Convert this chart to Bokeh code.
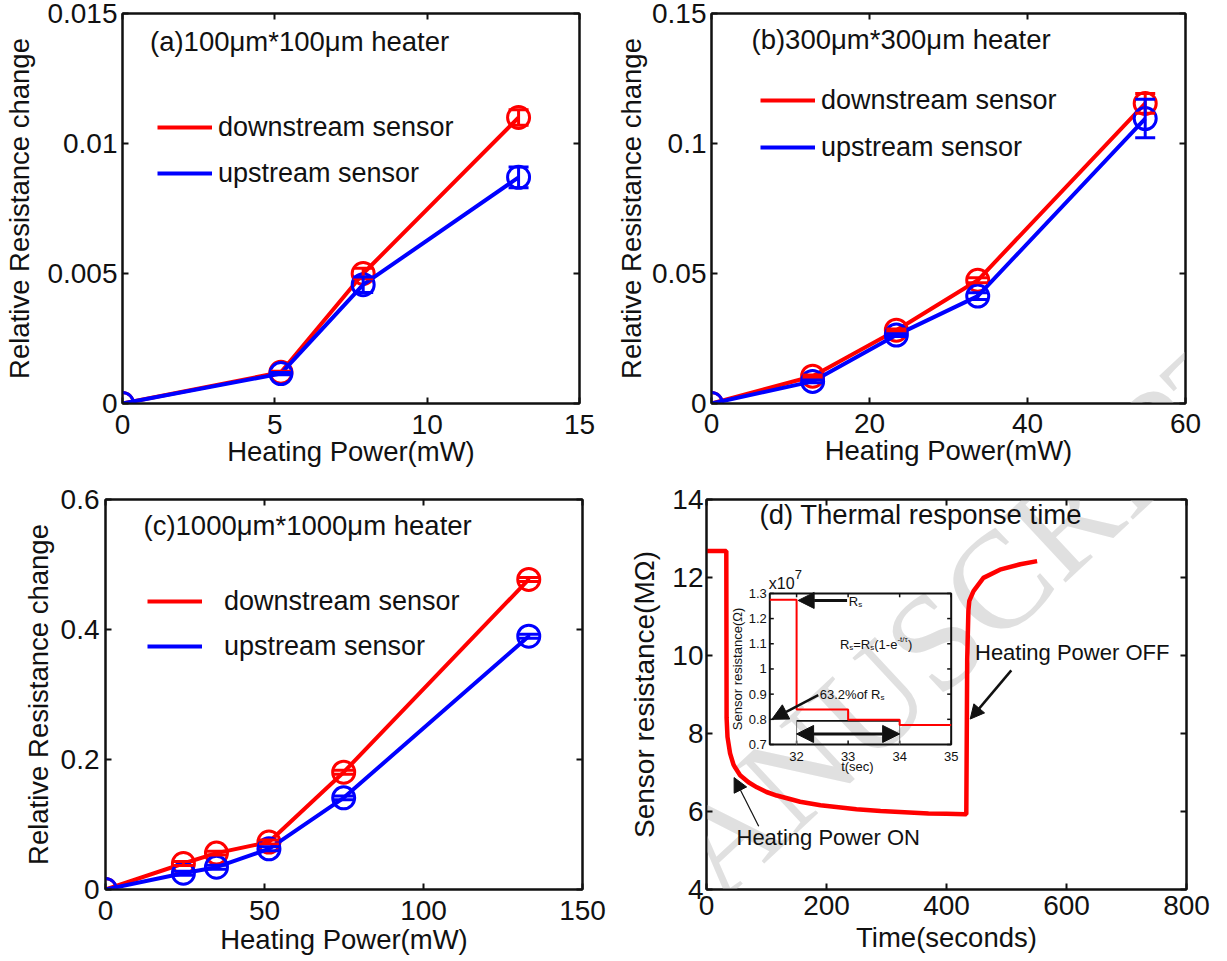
import math
from bokeh.plotting import figure
from bokeh.layouts import row, column
from bokeh.models import (Range1d, FixedTicker, LinearAxis, Legend, LegendItem, Label,
                          ColumnDataSource, Whisker, TeeHead, Arrow, NormalHead)
from bokeh.core.properties import value
from bokeh.embed import file_html
from bokeh.resources import INLINE

FONT = "Liberation Sans"
RED = "#ff0000"
BLUE = "#0000ff"
INK = "#111111"

# ---------------- data ----------------
# (a) 100um*100um heater
power_a = [0.0, 5.2, 7.9, 13.0]
down_a = [0.0, 0.0012, 0.0050, 0.0110]
down_a_err = [0.0, 0.00004, 0.0002, 0.0003]
up_a = [0.0, 0.00115, 0.00457, 0.0087]
up_a_err = [0.0, 0.00004, 0.0003, 0.0004]

# (b) 300um*300um heater
power_b = [0.0, 12.8, 23.4, 33.7, 54.9]
down_b = [0.0, 0.0105, 0.0282, 0.0474, 0.1154]
down_b_err = [0.0, 0.0005, 0.0005, 0.001, 0.0038]
up_b = [0.0, 0.0085, 0.0263, 0.0413, 0.1096]
up_b_err = [0.0, 0.0005, 0.0005, 0.0013, 0.0074]

# (c) 1000um*1000um heater
power_c = [0.0, 24.5, 34.9, 51.4, 74.9, 133.1]
down_c = [0.0, 0.040, 0.056, 0.073, 0.1805, 0.477]
down_c_err = [0.0, 0.003, 0.003, 0.003, 0.003, 0.003]
up_c = [0.0, 0.025, 0.0343, 0.0626, 0.141, 0.3897]
up_c_err = [0.0, 0.003, 0.003, 0.003, 0.003, 0.003]

# (d) thermal response
time_d = [0, 33, 33.5, 35, 39.3, 45, 48, 56, 61.5, 70, 84, 100, 117, 139, 156, 190,
          220, 250, 290, 330, 370, 400, 431, 433, 434.5, 436.5, 438, 445, 461.5,
          489, 523, 551]
res_d = [12.68, 12.68, 8.40, 7.91, 7.49, 7.20, 7.12, 6.93, 6.86, 6.75, 6.62, 6.50,
         6.41, 6.32, 6.25, 6.16, 6.11, 6.06, 6.01, 5.98, 5.95, 5.94, 5.93, 5.93,
         9.90, 11.15, 11.40, 11.65, 11.99, 12.20, 12.34, 12.42]

# inset of (d): time in s, resistance in 1e7 ohm
inset_t = [31.48, 32, 32, 33, 33, 34, 34, 35]
inset_r = [1.275, 1.275, 0.839, 0.839, 0.798, 0.798, 0.777, 0.777]
bracket_x0 = [32, 32, 34]
bracket_y0 = [0.794, 0.70, 0.70]
bracket_x1 = [34, 32, 34]
bracket_y1 = [0.794, 0.794, 0.794]

# ticks
xt_a, yt_a, ylab_a = [0, 5, 10, 15], [0, 0.005, 0.01, 0.015], ["0", "0.005", "0.01", "0.015"]
xt_b, yt_b, ylab_b = [0, 20, 40, 60], [0, 0.05, 0.1, 0.15], ["0", "0.05", "0.1", "0.15"]
xt_c, yt_c, ylab_c = [0, 50, 100, 150], [0, 0.2, 0.4, 0.6], ["0", "0.2", "0.4", "0.6"]
xt_d, yt_d = [0, 200, 400, 600, 800], [4, 6, 8, 10, 12, 14]
xt_in = [32, 33, 34, 35]
yt_in = [0.7, 0.8, 0.9, 1.0, 1.1, 1.2, 1.3]
ylab_in = ["0.7", "0.8", "0.9", "1", "1.1", "1.2", "1.3"]

# inset placement inside panel (d), in (d) data units
IN_X, IN_Y = (31.48, 35.0), (0.7, 1.3)
IN_TX, IN_TY = (105.5, 407.8), (7.7175, 11.5925)


# ---------------- helpers ----------------
def make_fig(w, h, xr, yr, l, r, t, b):
    p = figure(width=w, height=h, x_range=Range1d(*xr), y_range=Range1d(*yr),
               output_backend="svg", toolbar_location=None, title_location=None,
               min_border_left=l, min_border_right=r, min_border_top=t, min_border_bottom=b,
               background_fill_alpha=0, border_fill_color="white",
               outline_line_color=INK, outline_line_width=2)
    p.xgrid.visible = False
    p.ygrid.visible = False
    return p


def set_axis(ax, ticks, labels, fs, standoff, title, title_fs, title_standoff):
    ax.ticker = FixedTicker(ticks=ticks)
    if labels is not None:
        ax.major_label_overrides = {t: s for t, s in zip(ticks, labels)}
    ax.major_tick_in = 6
    ax.major_tick_out = 0
    ax.minor_tick_in = 0
    ax.minor_tick_out = 0
    ax.major_tick_line_width = 2
    ax.major_tick_line_color = INK
    ax.axis_line_width = 2
    ax.axis_line_color = INK
    ax.major_label_text_font = FONT
    ax.major_label_text_font_size = fs
    ax.major_label_text_color = INK
    ax.major_label_standoff = standoff
    ax.axis_label = title
    ax.axis_label_text_font = FONT
    ax.axis_label_text_font_size = title_fs
    ax.axis_label_text_font_style = "normal"
    ax.axis_label_text_color = INK
    ax.axis_label_standoff = title_standoff


def box_axes(p, xt, yt):
    for loc, ticks in (("above", xt), ("right", yt)):
        ax = LinearAxis(ticker=FixedTicker(ticks=ticks))
        ax.major_label_overrides = {t: "" for t in ticks}
        ax.major_label_text_font_size = "0px"
        ax.major_label_standoff = 0
        ax.major_tick_in = 6
        ax.major_tick_out = 0
        ax.minor_tick_in = 0
        ax.minor_tick_out = 0
        ax.major_tick_line_width = 2
        ax.major_tick_line_color = INK
        ax.axis_line_width = 2
        ax.axis_line_color = INK
        p.add_layout(ax, loc)


def txt(p, sx, sy, s, fs):
    p.add_layout(Label(x=sx, y=sy, x_units="screen", y_units="screen", text=s,
                       text_font=FONT, text_font_size=fs, text_color=INK,
                       text_align="left", text_baseline="middle"))


def watermark(p, sx, sy):
    p.add_layout(Label(x=sx, y=sy, x_units="screen", y_units="screen", text="MANUSCRIPT",
                       text_font="Liberation Serif", text_font_size="138px",
                       text_color="#e0e0e0", angle=math.radians(43.0),
                       text_align="left", text_baseline="middle", level="underlay"))


def series(p, x, y, err, color):
    ln = p.line(x, y, line_color=color, line_width=4)
    p.scatter(x, y, marker="circle", size=22, fill_alpha=0, line_color=color, line_width=3)
    src = ColumnDataSource(dict(x=x, upper=[v + e for v, e in zip(y, err)],
                                lower=[v - e for v, e in zip(y, err)]))
    p.add_layout(Whisker(source=src, base="x", upper="upper", lower="lower",
                         line_color=color, line_width=3, level="glyph",
                         upper_head=TeeHead(size=20, line_color=color, line_width=3),
                         lower_head=TeeHead(size=20, line_color=color, line_width=3)))
    return ln


def legend(p, rl, bl, loc, spacing, standoff):
    lg = Legend(items=[LegendItem(label="downstream sensor", renderers=[rl]),
                       LegendItem(label="upstream sensor", renderers=[bl])],
                location=loc, orientation="vertical", glyph_width=55, glyph_height=40,
                label_height=40, label_standoff=standoff, spacing=spacing, padding=0,
                margin=0, border_line_alpha=0, background_fill_alpha=0,
                label_text_font=FONT, label_text_font_size="27px", label_text_color=INK)
    p.add_layout(lg)


def ins(x, y):
    """inset coordinates -> panel (d) data coordinates"""
    return (IN_TX[0] + (x - IN_X[0]) / (IN_X[1] - IN_X[0]) * (IN_TX[1] - IN_TX[0]),
            IN_TY[0] + (y - IN_Y[0]) / (IN_Y[1] - IN_Y[0]) * (IN_TY[1] - IN_TY[0]))


TICK_FS = "28px"
LAB_FS = "27.5px"

# ---------------- (a) ----------------
pa = make_fig(610, 475, (0, 15), (0, 0.015), 122, 31, 13, 71)
set_axis(pa.yaxis[0], yt_a, ylab_a, TICK_FS, 5, "Relative Resistance change", LAB_FS, 9)
set_axis(pa.xaxis[0], xt_a, None, TICK_FS, 11, "Heating Power(mW)", LAB_FS, -1)
box_axes(pa, xt_a, yt_a)
ra = series(pa, power_a, down_a, down_a_err, RED)
ba = series(pa, power_a, up_a, up_a_err, BLUE)
legend(pa, ra, ba, (35, 210), 6, 6)
txt(pa, 27.5, 361.9, "(a)100μm*100μm heater", LAB_FS)

# ---------------- (b) ----------------
pb = make_fig(617, 475, (0, 60), (0, 0.15), 101, 42, 13, 72)
set_axis(pb.yaxis[0], yt_b, ylab_b, TICK_FS, 5, "Relative Resistance change", LAB_FS, 2)
set_axis(pb.xaxis[0], xt_b, None, TICK_FS, 10, "Heating Power(mW)", LAB_FS, -1)
box_axes(pb, xt_b, yt_b)
watermark(pb, -113, -555)
rb = series(pb, power_b, down_b, down_b_err, RED)
bb = series(pb, power_b, up_b, up_b_err, BLUE)
legend(pb, rb, bb, (49, 236), 7, 6)
txt(pb, 40, 364.3, "(b)300μm*300μm heater", LAB_FS)

# ---------------- (c) ----------------
pc = make_fig(610, 486, (0, 150), (0, 0.6), 105, 28, 24, 72)
set_axis(pc.yaxis[0], yt_c, ylab_c, TICK_FS, 6, "Relative Resistance change", LAB_FS, 4)
set_axis(pc.xaxis[0], xt_c, None, TICK_FS, 11, "Heating Power(mW)", LAB_FS, 1)
box_axes(pc, xt_c, yt_c)
watermark(pc, 493, -69)
rc = series(pc, power_c, down_c, down_c_err, RED)
bc = series(pc, power_c, up_c, up_c_err, BLUE)
legend(pc, rc, bc, (42, 223), 5, 22)
txt(pc, 38, 363.6, "(c)1000μm*1000μm heater", LAB_FS)

# ---------------- (d) ----------------
pd = make_fig(617, 486, (0, 800), (4, 14), 96, 41, 18, 68)
set_axis(pd.yaxis[0], yt_d, None, TICK_FS, 3, "Sensor resistance(MΩ)", "28px", 9)
set_axis(pd.xaxis[0], xt_d, None, TICK_FS, 6, "Time(seconds)", LAB_FS, 4)
box_axes(pd, xt_d, yt_d)
watermark(pd, -108, -65)
pd.line(time_d, res_d, line_color=RED, line_width=4.5)
txt(pd, 53, 374.6, "(d) Thermal response time", LAB_FS)
txt(pd, 268.5, 237.4, "Heating Power OFF", "22px")
txt(pd, 30, 52.4, "Heating Power ON", "22px")
pd.add_layout(Arrow(end=NormalHead(size=14, fill_color=INK, line_color=INK),
                    x_start=508, y_start=9.62, x_end=439.5, y_end=8.37,
                    line_color=INK, line_width=2.5))
pd.add_layout(Arrow(end=NormalHead(size=14, fill_color=INK, line_color=INK),
                    x_start=87, y_start=5.62, x_end=46, y_end=6.87,
                    line_color=INK, line_width=1.2))

# ---------------- inset of (d), drawn in a sub-coordinate system ----------------
sub = pd.subplot(x_source=Range1d(*IN_X), y_source=Range1d(*IN_Y),
                 x_target=Range1d(*IN_TX), y_target=Range1d(*IN_TY))
ppx = (IN_TX[1] - IN_TX[0]) * 0.6 / (IN_X[1] - IN_X[0])    # px per inset x unit
ppy = (IN_TY[1] - IN_TY[0]) * 40.0 / (IN_Y[1] - IN_Y[0])   # px per inset y unit
tdx, tdy = 4 / ppx, 4 / ppy
sub.quad(left=[IN_X[0]], right=[IN_X[1]], bottom=[IN_Y[0]], top=[IN_Y[1]],
         fill_color=None, line_color=INK, line_width=2)
sub.segment(x0=[IN_X[0]] * len(yt_in), y0=yt_in, x1=[IN_X[0] + tdx] * len(yt_in), y1=yt_in,
            line_color=INK, line_width=1.5)
sub.segment(x0=[IN_X[1]] * len(yt_in), y0=yt_in, x1=[IN_X[1] - tdx] * len(yt_in), y1=yt_in,
            line_color=INK, line_width=1.5)
sub.segment(x0=xt_in, y0=[IN_Y[0]] * len(xt_in), x1=xt_in, y1=[IN_Y[0] + tdy] * len(xt_in),
            line_color=INK, line_width=1.5)
sub.segment(x0=xt_in, y0=[IN_Y[1]] * len(xt_in), x1=xt_in, y1=[IN_Y[1] - tdy] * len(xt_in),
            line_color=INK, line_width=1.5)
sub.segment(x0=bracket_x0, y0=bracket_y0, x1=bracket_x1, y1=bracket_y1,
            line_color=[INK, "#777777", "#777777"], line_width=[1.6, 1, 1])
sub.line(inset_t, inset_r, line_color=RED, line_width=2)
sub.text(x=[IN_X[0]] * len(yt_in), y=yt_in, text=ylab_in, x_offset=-3,
         text_align="right", text_baseline="middle", text_color=INK,
         text_font=value(FONT), text_font_size=value("13px"))
sub.text(x=xt_in, y=[IN_Y[0]] * len(xt_in), text=[str(v) for v in xt_in], y_offset=12,
         text_align="center", text_baseline="middle", text_color=INK,
         text_font=value(FONT), text_font_size=value("13px"))
sub.text(x=[33.18], y=[IN_Y[0]], text=["t(sec)"], y_offset=22,
         text_align="center", text_baseline="middle", text_color=INK,
         text_font=value(FONT), text_font_size=value("13px"))
sub.text(x=[IN_X[0]], y=[1.0], text=["Sensor resistance(Ω)"], x_offset=-32.5,
         angle=math.pi / 2, text_align="center", text_baseline="middle", text_color=INK,
         text_font=value(FONT), text_font_size=value("13px"))
sub.text(x=[IN_X[0], IN_X[0]], y=[IN_Y[1], IN_Y[1]], text=["x10", "7"],
         x_offset=[-1, 25], y_offset=[-10.3, -19], text_font_size=["16px", "13px"],
         text_align="left", text_baseline="middle", text_color=INK, text_font=value(FONT))
sub.text(x=[33.014, 33.014], y=[1.268, 1.268], text=["R", "s"], x_offset=[0, 9.4],
         y_offset=[0, 3], text_font_size=["13px", "8px"],
         text_align="left", text_baseline="middle", text_color=INK, text_font=value(FONT))
sub.text(x=[32.45, 32.45], y=[0.9005, 0.9005], text=["63.2%of R", "s"], x_offset=[0, 60.7],
         y_offset=[0, 3], text_font_size=["13px", "8px"],
         text_align="left", text_baseline="middle", text_color=INK, text_font=value(FONT))
sub.text(x=[32.84] * 7, y=[1.0987] * 7, text=["R", "s", "=R", "s", "(1-e", "-t/τ", ")"],
         x_offset=[0, 9.4, 13.4, 30.4, 34.4, 57.5, 68.1], y_offset=[0, 3, 0, 3, 0, -5, 0],
         text_font_size=["13px", "8px", "13px", "8px", "13px", "8px", "13px"],
         text_align="left", text_baseline="middle", text_color=INK, text_font=value(FONT))

x0, y0 = ins(32.98, 1.272)
x1, y1 = ins(32.03, 1.272)
pd.add_layout(Arrow(end=NormalHead(size=16, fill_color=INK, line_color=INK),
                    x_start=x0, y_start=y0, x_end=x1, y_end=y1, line_color=INK, line_width=3))
x0, y0 = ins(32.42, 0.896)
x1, y1 = ins(31.52, 0.80)
pd.add_layout(Arrow(end=NormalHead(size=16, fill_color=INK, line_color=INK),
                    x_start=x0, y_start=y0, x_end=x1, y_end=y1, line_color=INK, line_width=2.5))
x0, y0 = ins(32.0, 0.742)
x1, y1 = ins(34.0, 0.742)
pd.add_layout(Arrow(start=NormalHead(size=17, fill_color=INK, line_color=INK),
                    end=NormalHead(size=17, fill_color=INK, line_color=INK),
                    x_start=x0, y_start=y0, x_end=x1, y_end=y1, line_color=INK, line_width=3))

layout = column(row(pa, pb), row(pc, pd))
open("out.html", "w").write(file_html(layout, INLINE))
